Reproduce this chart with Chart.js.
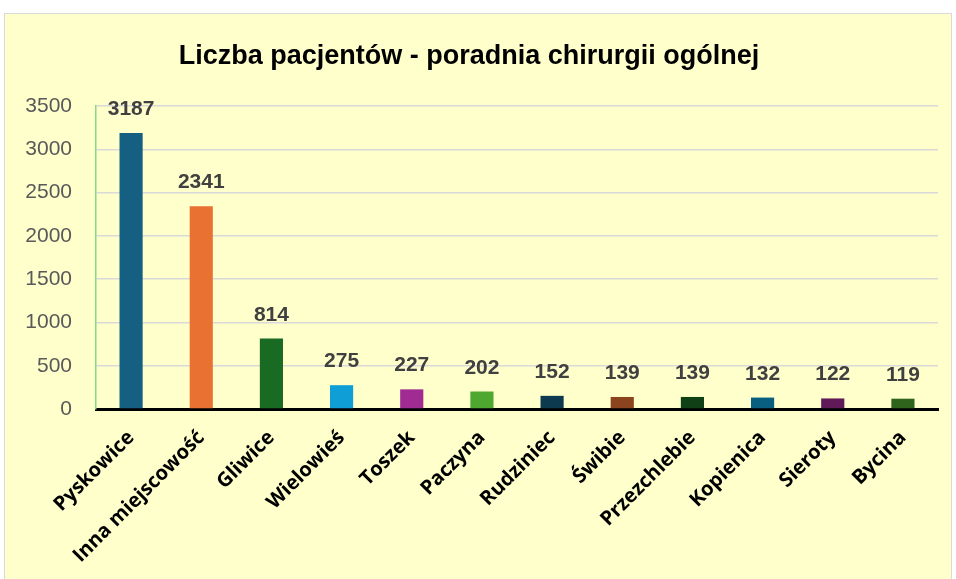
<!DOCTYPE html>
<html>
<head>
<meta charset="utf-8">
<script src="https://cdn.jsdelivr.net/npm/chart.js@4/dist/chart.umd.min.js"></script>
<style>
  html, body { margin: 0; padding: 0; background: #ffffff; }
  #frame {
    position: absolute; left: 4px; top: 13px; width: 946px; height: 570px;
    background: #ffffcc; border: 1px solid #d9d9d9;
  }
  #wrap { position: absolute; left: 0; top: 0; width: 956px; height: 579px; }
</style>
</head>
<body>
<div id="frame"></div>
<div id="wrap"><canvas id="patientsChart" width="956" height="579"></canvas></div>
<script>
// Dane z wykresu
const towns = ["Pyskowice", "Inna miejscowość", "Gliwice", "Wielowieś", "Toszek", "Paczyna",
  "Rudziniec", "Świbie", "Przezchlebie", "Kopienica", "Sieroty", "Bycina"];
const patients = [3187, 2341, 814, 275, 227, 202, 152, 139, 139, 132, 122, 119];
const barColors = ["#156082", "#e97132", "#196b24", "#0f9ed5", "#a02b93", "#4ea72e",
  "#0d3a4e", "#8c441e", "#0f4016", "#095f80", "#601a58", "#2f641c"];
const yTicks = [0, 500, 1000, 1500, 2000, 2500, 3000, 3500];

// Value labels above bars
const valueLabels = {
  id: 'valueLabels',
  afterDatasetsDraw(chart) {
    const ctx = chart.ctx;
    const meta = chart.getDatasetMeta(0);
    ctx.save();
    ctx.font = 'bold 21px "Liberation Sans", Arial, sans-serif';
    ctx.fillStyle = '#404040';
    ctx.textAlign = 'center';
    ctx.textBaseline = 'alphabetic';
    meta.data.forEach(function(bar, i) {
      ctx.fillText(patients[i], bar.x, bar.y - 18);
    });
    ctx.restore();
  }
};

const ctx = document.querySelector('#patientsChart').getContext('2d');
const patientsChart = new Chart(ctx, {
  type: 'bar',
  data: {
    labels: towns,
    datasets: [{
      data: patients,
      backgroundColor: barColors,
      barPercentage: 0.33,
      categoryPercentage: 1
    }]
  },
  options: {
    responsive: false,
    animation: false,
    layout: { padding: { left: 0, right: 18, top: 0, bottom: 0 } },
    plugins: {
      legend: { display: false },
      tooltip: { enabled: false },
      title: {
        display: true,
        text: 'Liczba pacjentów - poradnia chirurgii ogólnej',
        color: '#000000',
        font: { family: '"Liberation Sans", Arial, sans-serif', size: 27, weight: 'bold', lineHeight: 1.2 },
        padding: { top: 40, bottom: 33.6 }
      }
    },
    scales: {
      x: {
        grid: { display: false, drawTicks: false },
        border: { color: '#000000', width: 3 },
        ticks: {
          color: '#000000',
          font: { family: '"Open Sans", sans-serif', size: 20, weight: 'bold' },
          minRotation: 45,
          maxRotation: 45,
          padding: 17
        },
        afterFit: function(scale) { scale.height = 170; }
      },
      y: {
        min: 0,
        max: 3500,
        afterBuildTicks: function(scale) {
          scale.ticks = yTicks.map(function(v) { return { value: v }; });
        },
        grid: { color: '#d9d9d9', lineWidth: 1.5, drawTicks: false },
        border: { color: '#86d786', width: 1.5 },
        ticks: {
          color: '#595959',
          font: { family: '"Liberation Sans", Arial, sans-serif', size: 21 },
          padding: 24,
          callback: function(value) { return String(value); }
        },
        afterFit: function(scale) { scale.width = 96; }
      }
    }
  },
  plugins: [valueLabels]
});
</script>
</body>
</html>
